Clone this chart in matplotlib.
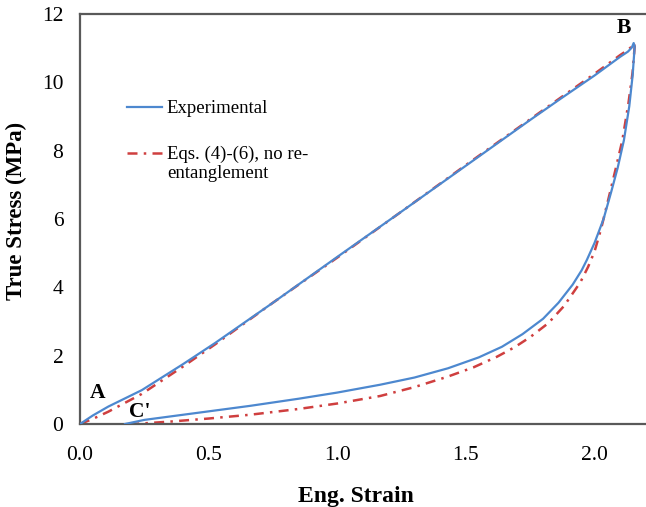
import numpy as np
import matplotlib
matplotlib.use("Agg")
import matplotlib.pyplot as plt

plt.rcParams['font.family'] = ['Liberation Serif', 'DejaVu Serif']

# Experimental loading (A -> B)
exp_load_x = [0, 0.05, 0.11, 0.24, 0.4, 0.525, 0.75, 1.0, 1.25, 1.5, 1.75, 1.868, 2.0, 2.1, 2.13, 2.145, 2.152]
exp_load_y = [0, 0.25, 0.51, 0.99, 1.75, 2.37, 3.55, 4.89, 6.22, 7.56, 8.9, 9.52, 10.2, 10.75, 10.9, 11.02, 11.15]

# Experimental unloading (B -> C')
exp_unload_x = [2.152, 2.156, 2.148, 2.135, 2.114, 2.09, 2.065, 2.035, 2.0, 1.97, 1.95, 1.915, 1.86, 1.80,
                1.72, 1.64, 1.55, 1.43, 1.3, 1.167, 1.0, 0.85, 0.66, 0.5, 0.35, 0.25, 0.175]
exp_unload_y = [11.15, 11.05, 10.2, 9.3, 8.3, 7.5, 6.8, 6.0, 5.3, 4.8, 4.5, 4.08, 3.55, 3.08,
                2.63, 2.26, 1.95, 1.63, 1.36, 1.15, 0.92, 0.74, 0.53, 0.37, 0.22, 0.12, 0.0]

# Model, Eqs. (4)-(6), no re-entanglement
mod_load_x = [0, 0.05, 0.11, 0.24, 0.4, 0.525, 0.75, 1.0, 1.25, 1.5, 1.75, 1.868, 2.0, 2.1, 2.13, 2.145, 2.152]
mod_load_y = [0, 0.15, 0.36, 0.88, 1.68, 2.33, 3.55, 4.87, 6.22, 7.58, 8.92, 9.55, 10.25, 10.8, 10.95, 11.05, 11.15]

mod_unload_x = [2.152, 2.156, 2.148, 2.132, 2.108, 2.08, 2.056, 2.025, 2.0, 1.975, 1.945, 1.881, 1.82,
                1.751, 1.69, 1.621, 1.53, 1.427, 1.3, 1.167, 1.0, 0.85, 0.66, 0.5, 0.35, 0.25, 0.19]
mod_unload_y = [11.15, 11.05, 10.3, 9.4, 8.3, 7.4, 6.65, 5.7, 5.05, 4.6, 4.15, 3.45, 2.95,
                2.55, 2.25, 1.97, 1.66, 1.38, 1.08, 0.82, 0.6, 0.44, 0.27, 0.16, 0.07, 0.02, 0.0]

BLUE = '#4d88cf'
RED = '#cf3f3f'

fig = plt.figure(figsize=(6.46, 5.07), dpi=100)
ax = fig.add_axes([80 / 646, 83 / 507, 566 / 646, 410 / 507])

ax.plot(exp_load_x + exp_unload_x, exp_load_y + exp_unload_y,
        color=BLUE, lw=1.6, label='Experimental', zorder=3)
ax.plot(mod_load_x + mod_unload_x, mod_load_y + mod_unload_y,
        color=RED, lw=1.8, dashes=(4, 2.5, 1, 2.5),
        label='Eqs. (4)-(6), no re-\nentanglement', zorder=2)

# Point labels
ax.text(0.07, 0.91, 'A', fontsize=15.5, fontweight='bold', ha='center', va='center')
ax.text(0.233, 0.35, "C'", fontsize=15.5, fontweight='bold', ha='center', va='center')
ax.text(2.113, 11.58, 'B', fontsize=15.5, fontweight='bold', ha='center', va='center')

ax.set_xlim(0, 2.2)
ax.set_ylim(0, 12)
ax.set_xticks([0, 0.5, 1.0, 1.5, 2.0])
ax.set_xticklabels(['0.0', '0.5', '1.0', '1.5', '2.0'])
ax.set_yticks(range(0, 13, 2))
ax.tick_params(length=0, labelsize=15.5)
ax.tick_params(axis='x', pad=16)
ax.tick_params(axis='y', pad=12)

for side in ['left', 'bottom', 'top']:
    ax.spines[side].set_color('#595959')
    ax.spines[side].set_linewidth(1.6)
ax.spines['right'].set_visible(False)

ax.set_xlabel('Eng. Strain', fontsize=17, fontweight='bold')
ax.set_ylabel('True Stress (MPa)', fontsize=16.5, fontweight='bold')
ax.xaxis.set_label_coords(0.487, -0.152)
ax.yaxis.set_label_coords(-0.093, 0.52)

leg = ax.legend(loc='upper left', bbox_to_anchor=(127 / 646, 1 - 100 / 507),
                bbox_transform=fig.transFigure, frameon=False, fontsize=13.5,
                handlelength=1.87, handletextpad=0.25, labelspacing=1.5,
                borderpad=0, borderaxespad=0)
# keep the model handle level with the first line of its label
h = leg.legend_handles[1]
h.set_ydata(np.asarray(h.get_ydata()) + 7.5)

fig.savefig('out.png', dpi=100)
